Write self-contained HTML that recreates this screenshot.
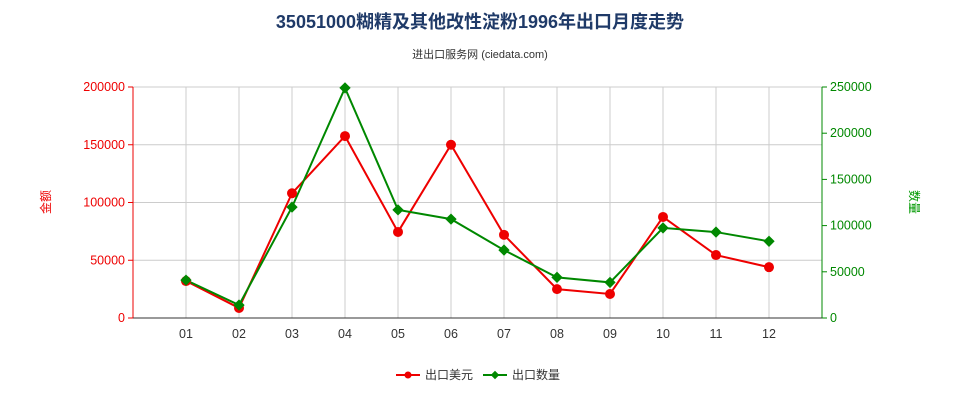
<!DOCTYPE html>
<html><head><meta charset="utf-8"><style>
body{margin:0;background:#fff;font-family:"Liberation Sans","Noto Sans CJK SC",sans-serif;}
svg{display:block}
</style></head><body>
<svg id="c" width="960" height="400" xmlns="http://www.w3.org/2000/svg">
<text x="480" y="28" text-anchor="middle" font-size="18" font-weight="bold" fill="#1f3a68">35051000糊精及其他改性淀粉1996年出口月度走势</text>
<text x="480" y="58" text-anchor="middle" font-size="11" fill="#333">进出口服务网 (ciedata.com)</text>
<text x="50" y="202" text-anchor="middle" font-size="12" fill="#e00" transform="rotate(-90 50 202)">金额</text>
<text x="910" y="202" text-anchor="middle" font-size="12" fill="#090" transform="rotate(90 910 202)">数量</text>
<g id="grid"></g><g id="axes"></g><g id="series"></g>
<g>
<g><line x1="396" y1="375" x2="420" y2="375" stroke="#e00" stroke-width="2"/><circle cx="408" cy="375" r="3.5" fill="#e00"/><text x="425" y="379" font-size="12" fill="#333">出口美元</text></g>
<g><line x1="483" y1="375" x2="507" y2="375" stroke="#080" stroke-width="2"/><rect x="492" y="372" width="6" height="6" fill="#080" transform="rotate(45 495 375)"/><text x="512" y="379" font-size="12" fill="#333">出口数量</text></g>
</g>
</svg>
<script>
const categories=["01","02","03","04","05","06","07","08","09","10","11","12"];
const valueUSD=[32000,8700,108000,157500,74500,150000,72000,25000,20800,87500,54500,44000];
const valueQty=[41000,14000,120000,249000,117000,107000,73500,44000,38500,97500,93000,83000];
const leftTicks=[0,50000,100000,150000,200000];
const rightTicks=[0,50000,100000,150000,200000,250000];
const NS="http://www.w3.org/2000/svg";
const L=133,R=822,T=87,B=318,step=(R-L)/13;
const x=i=>L+(i+1)*step;
const yL=v=>B-v/200000*(B-T);
const yR=v=>B-v/250000*(B-T);
function mk(tag,attrs,parent,text){const e=document.createElementNS(NS,tag);for(const k in attrs)e.setAttribute(k,attrs[k]);if(text!==undefined)e.textContent=text;document.getElementById(parent).appendChild(e);return e;}
for(let i=0;i<=13;i++){const e=mk('line',{x1:L+i*step,x2:L+i*step,y1:T,y2:B,stroke:'#ccc'},'grid');

}
leftTicks.forEach(v=>{const e=mk('line',{x1:L,x2:R,y1:yL(v),y2:yL(v),stroke:'#ccc'},'grid');


const t=mk('text',{x:L-8,y:yL(v)+4,'text-anchor':'end','font-size':12.5,fill:'#e00'},'axes',String(v));


mk('line',{x1:L-5,x2:L,y1:yL(v),y2:yL(v),stroke:'#e00'},'axes');});
rightTicks.forEach(v=>{const t=mk('text',{x:R+8,y:yR(v)+4,'font-size':12.5,fill:'#080'},'axes',String(v));


mk('line',{x1:R,x2:R+5,y1:yR(v),y2:yR(v),stroke:'#080'},'axes');});
mk('line',{x1:L,x2:L,y1:T,y2:B,stroke:'#e00'},'axes');
mk('line',{x1:R,x2:R,y1:T,y2:B,stroke:'#080'},'axes');
mk('line',{x1:L,x2:R,y1:B,y2:B,stroke:'#333'},'axes');
categories.forEach((c,i)=>{const t=mk('text',{x:x(i),y:B+20,'text-anchor':'middle','font-size':12.5,fill:'#333'},'axes',c);

});
const pU=mk('polyline',{points:valueUSD.map((v,i)=>x(i)+','+yL(v)).join(' '),fill:'none',stroke:'#e00','stroke-width':2},'series');


const pQ=mk('polyline',{points:valueQty.map((v,i)=>x(i)+','+yR(v)).join(' '),fill:'none',stroke:'#080','stroke-width':2},'series');


valueUSD.forEach((v,i)=>{const e=mk('circle',{cx:x(i),cy:yL(v),r:5,fill:'#e00'},'series');

});
valueQty.forEach((v,i)=>{const e=mk('rect',{x:x(i)-4,y:yR(v)-4,width:8,height:8,fill:'#080',transform:`rotate(45 ${x(i)} ${yR(v)})`},'series');

});
</script>
</body></html>
